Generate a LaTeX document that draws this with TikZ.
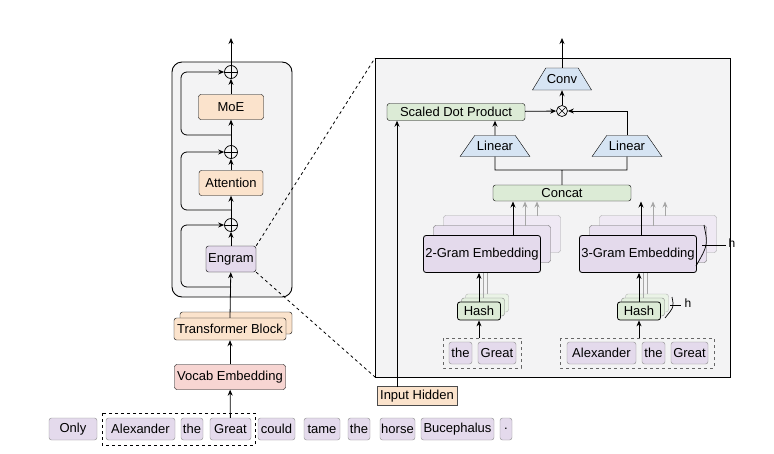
\documentclass[tikz,border=0pt]{standalone}
\usepackage{fontspec}
\setmainfont{Liberation Sans}
\usetikzlibrary{arrows.meta,shapes.geometric,calc}
\definecolor{org}{HTML}{FBE3CC}
\definecolor{pur}{HTML}{E4DAEC}
\definecolor{grn}{HTML}{DCEBD6}
\definecolor{pnk}{HTML}{F7D5D2}
\definecolor{blu}{HTML}{D6E4F3}
\definecolor{bg}{HTML}{F3F3F4}
\begin{document}
\begin{tikzpicture}[x=1pt,y=-1pt,
 bx/.style={draw,rounded corners=2.5pt,inner sep=0pt,font=\fontsize{13}{14}\selectfont},
 tok/.style={bx,fill=pur,draw=black!45},
 ar/.style={-{Stealth[length=6pt,width=5pt]},line width=0.8pt},
 gar/.style={-{Stealth[length=6pt,width=5pt]},line width=0.8pt,draw=black!35},
 ln/.style={line width=0.8pt},
 op/.style={circle,draw,line width=0.7pt,minimum size=13pt,inner sep=0pt},
 trap/.style={trapezium,draw,fill=blu,trapezium angle=40,inner sep=1pt,font=\fontsize{13}{14}\selectfont}]
\useasboundingbox (0,0) rectangle (774,453);
% left panel
\draw[rounded corners=10pt,fill=bg,line width=0.9pt] (172,62) rectangle (292,297);
\node[op] (p1) at (231,72) {};
\node[op] (p2) at (231,152) {};
\node[op] (p3) at (231,225) {};
\draw (p1.north) -- (p1.south) (p1.west) -- (p1.east);
\draw (p2.north) -- (p2.south) (p2.west) -- (p2.east);
\draw (p3.north) -- (p3.south) (p3.west) -- (p3.east);
\node[bx,fill=org,minimum width=65pt,minimum height=25pt] (moe) at (231,107) {MoE};
\node[bx,fill=org,minimum width=64pt,minimum height=25pt] (att) at (231,183) {Attention};
\node[bx,fill=pur,minimum width=50pt,minimum height=26pt] (eng) at (231,259) {Engram};
\coordinate (top1) at (231,38);
\draw[ar] (p1) -- (top1);
\draw[ar] (moe) -- (p1);
\draw[ar] (p2) -- (moe);
\draw[ar] (att) -- (p2);
\draw[ar] (p3) -- (att);
\draw[ar] (eng) -- (p3);
\draw[ar,rounded corners=6pt] (231,135) -- (181,135) -- (181,72) -- (p1.west);
\draw[ar,rounded corners=6pt] (231,210) -- (181,210) -- (181,152) -- (p2.west);
\draw[ar,rounded corners=6pt] (231,287) -- (181,287) -- (181,225) -- (p3.west);
\node[bx,fill=org,minimum width=112pt,minimum height=22pt] (tb2) at (236,323) {};
\node[bx,fill=org,minimum width=112pt,minimum height=22pt] (tb) at (230,329) {Transformer Block};
\draw[ar] (tb.north) -- (eng);
\node[bx,fill=pnk,minimum width=111pt,minimum height=25pt] (voc) at (230,377) {Vocab Embedding};
\draw[ar] (voc) -- (tb);
% tokens
\foreach \n/\xa/\xb/\t in {t1/49/97/Only,t2/106/175/Alexander,t3/181/203/the,t4/210/251/Great,t5/258/295/could,t6/304/340/tame,t7/348/370/the,t8/380/415/horse,t9/421/494/Bucephalus,t10/500/512/.}
  \node[tok,minimum width=\xb pt-\xa pt,minimum height=22pt] (\n) at ({(\xa+\xb)/2},429) {\t};
\draw[dashed,line width=0.8pt] (102,413) rectangle (255,445);
\draw[ar] (t4) -- (voc);
% zoom lines
\draw[dashed,line width=0.8pt] (eng.north east) -- (375,58);
\draw[dashed,line width=0.8pt] (eng.south east) -- (375,377);
% right panel
\draw[fill=bg,line width=0.9pt] (375,58) rectangle (730,377);
\node[trap,minimum width=58pt,minimum height=22pt,trapezium stretches=true] (conv) at (562,79) {Conv};
\coordinate (top2) at (562,38);
\draw[ar] (conv) -- (top2);
\node[op,minimum size=11pt] (mul) at (562,111) {};
\draw ($(mul.center)+(-3.9,-3.9)$) -- ($(mul.center)+(3.9,3.9)$) ($(mul.center)+(-3.9,3.9)$) -- ($(mul.center)+(3.9,-3.9)$);
\draw[ar] (mul) -- (conv);
\node[bx,fill=grn,minimum width=138pt,minimum height=17pt] (sdp) at (456,112) {Scaled Dot Product};
\draw[ar] (sdp) -- (mul);
\node[trap,minimum width=70pt,minimum height=21pt,trapezium stretches=true] (lin1) at (495,146) {Linear};
\node[trap,minimum width=70pt,minimum height=21pt,trapezium stretches=true] (lin2) at (627,146) {Linear};
\draw[ar] (lin1) -- (lin1 |- sdp.south);
\draw[ar] (lin2.north) |- (mul.east);
\node[bx,fill=org,draw=black!70,rounded corners=0pt,minimum width=80pt,minimum height=19pt] (ih) at (417,396) {Input Hidden};
\coordinate (ihs) at (397,387);
\draw[ar] (ihs) -- (ihs |- sdp.south);
\node[bx,fill=grn,minimum width=138pt,minimum height=16pt] (cat) at (562,193) {Concat};
\draw[ln] (cat.north) -- (562,170) (lin1.south) -- (495,170) -- (627,170) -- (lin2.south);
% embeddings
\foreach \x/\lab/\nm in {482/2-Gram Embedding/e2,638/3-Gram Embedding/e3}{
  \node[bx,fill=pur!60,draw=black!35,minimum width=117pt,minimum height=37pt] at (\x+20,234) {};
  \node[bx,fill=pur!80,draw=black!60,minimum width=117pt,minimum height=37pt] at (\x+10,244) {};
  \node[bx,fill=pur,line width=0.8pt,minimum width=117pt,minimum height=37pt] (\nm) at (\x,254) {\lab};
}
\draw[ar] (513,236) -- (513,201.5);
\draw[gar] (525,226) -- (525,201.5);
\draw[gar] (537,216) -- (537,201.5);
\draw[ar] (641,236) -- (641,201.5);
\draw[gar] (653,226) -- (653,201.5);
\draw[gar] (665,216) -- (665,201.5);
% hashes
\foreach \x/\nm in {479/h2,639/h3}{
  \node[bx,fill=grn!60,draw=black!30,minimum width=43pt,minimum height=18pt] at (\x+8,303) {};
  \node[bx,fill=grn!80,draw=black!50,minimum width=43pt,minimum height=18pt] at (\x+4,307) {};
  \node[bx,fill=grn,line width=0.8pt,minimum width=43pt,minimum height=18pt] (\nm) at (\x,311) {Hash};
}
\draw[ar] (h2) -- (h2 |- e2.south);
\draw[gar,-] (483,298) -- (483,273) (487,294) -- (487,273);
\draw[ar] (h3) -- (h3 |- e3.south);
\draw[gar,-] (643,298) -- (643,273) (647,294) -- (647,273);
% h labels
\draw[line width=0.7pt] (704,225) .. controls (708,245) .. (696,266);
\draw[line width=0.7pt] (702,245) -- (726,245);
\node[font=\fontsize{12}{13}\selectfont] (hl1) at (732,243) {h};
\draw[line width=0.7pt] (672,297) .. controls (674,307) .. (665,318);
\draw[line width=0.7pt] (670,305) -- (681,305);
\node[font=\fontsize{12}{13}\selectfont] (hl2) at (688,303) {h};
% small tokens
\node[tok,minimum width=23pt,minimum height=22pt] (s1) at (460.5,353) {the};
\node[tok,minimum width=38pt,minimum height=22pt] (s2) at (497,353) {Great};
\draw[dashed,line width=0.7pt,draw=black!60] (443,338) rectangle (521,368);
\coordinate (d2) at (479,338);
\draw[ar] (d2) -- (h2);
\node[tok,minimum width=69pt,minimum height=22pt] (s3) at (601.5,353) {Alexander};
\node[tok,minimum width=23pt,minimum height=22pt] (s4) at (653.5,353) {the};
\node[tok,minimum width=37pt,minimum height=22pt] (s5) at (689.5,353) {Great};
\draw[dashed,line width=0.7pt,draw=black!60] (560,338) rectangle (714,368);
\coordinate (d3) at (639,338);
\draw[ar] (d3) -- (h3);
\end{tikzpicture}
\end{document}
